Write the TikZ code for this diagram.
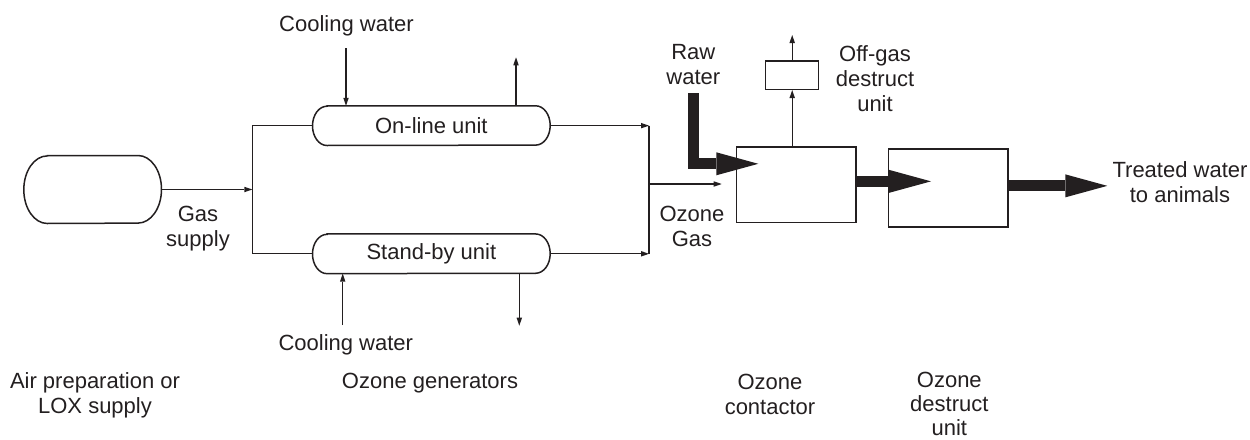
\documentclass[tikz,border=0pt]{standalone}
\usepackage{fontspec}
\setmainfont{Liberation Sans}
\usetikzlibrary{arrows.meta}
\definecolor{ink}{HTML}{231F20}
\newcommand\mlines[1]{\begin{tabular}[t]{@{}c@{}}#1\end{tabular}}
\begin{document}
\begin{tikzpicture}[x=1pt,y=-1pt,
  font=\fontsize{22}{25}\selectfont,
  every node/.style={text=ink},
  conn/.style={draw=ink, line width=1.2pt, -{Triangle[length=8pt,width=5.5pt,line width=0pt]}},
  plain/.style={draw=ink, line width=1.2pt},
  outline/.style={draw=ink, line width=1.5pt},
  box/.style={draw=ink, line width=1.5pt, inner sep=0pt},
  pillnode/.style={inner sep=0pt, minimum width=237.3pt, minimum height=39.3pt},
  bigarrow/.style={draw=ink, line width=11pt, -{Triangle[length=42pt,width=23pt,line width=0pt]}},
  lbl/.style={anchor=base, inner sep=0pt}]
\path[use as bounding box] (0,0) rectangle (1250,439);

% air preparation / LOX supply tank
\node[inner sep=0pt, minimum width=137.3pt, minimum height=67.6pt] (tank) at (92.65,189.5) {};
\draw[outline] ([xshift=23.5pt]tank.north west) -- ([xshift=-23.5pt]tank.north east)
  arc[start angle=90, end angle=-90, x radius=23.5pt, y radius=33.8pt]
  -- ([xshift=23.5pt]tank.south west)
  arc[start angle=270, end angle=90, x radius=23.5pt, y radius=33.8pt] -- cycle;

% ozone generators
\node[pillnode] (online) at (431.35,125.65) {On-line unit};
\draw[outline] ([xshift=14.5pt]online.north west) -- ([xshift=-14.5pt]online.north east)
  arc[start angle=90, end angle=-90, x radius=14.5pt, y radius=19.65pt]
  -- ([xshift=14.5pt]online.south west)
  arc[start angle=270, end angle=90, x radius=14.5pt, y radius=19.65pt] -- cycle;
\node[pillnode] (standby) at (431.35,253.8) {Stand-by unit};
\draw[outline] ([xshift=14.5pt]standby.north west) -- ([xshift=-14.5pt]standby.north east)
  arc[start angle=90, end angle=-90, x radius=14.5pt, y radius=19.65pt]
  -- ([xshift=14.5pt]standby.south west)
  arc[start angle=270, end angle=90, x radius=14.5pt, y radius=19.65pt] -- cycle;

% contactor, off-gas destruct, ozone destruct
\node[box, minimum width=119.3pt, minimum height=75.7pt] (contactor) at (796.35,184.85) {};
\node[box, minimum width=53pt, minimum height=28.3pt] (offgas) at (792.2,75.15) {};
\node[box, minimum width=119.7pt, minimum height=78pt] (destruct) at (948.15,188) {};

% coordinates for free ends and manifolds
\coordinate (mL) at (252.3,190);
\coordinate (mR) at (649,184);
\coordinate (ozin) at (721.7,184);
\coordinate (cwin) at (346,48.3);
\coordinate (onout) at (516,57.3);
\coordinate (sbin) at (342.7,325);
\coordinate (sbout) at (519.3,325.7);
\coordinate (offout) at (792.2,35);
\coordinate (rawtop) at (693.35,93.3);
\coordinate (rawtip) at (758.3,163.8);
\coordinate (d2tip) at (931,181.35);
\coordinate (outtip) at (1107.3,185.85);

% gas connections
\draw[conn] (tank.east) -- (tank.east -| mL);
\draw[plain] (online.west) -- (online.west -| mL) -- (standby.west -| mL) -- (standby.west);
\draw[conn] (online.east) -- (online.east -| mR);
\draw[conn] (standby.east) -- (standby.east -| mR);
\draw[plain] (online.east -| mR) -- (standby.east -| mR);
\draw[conn] (mR) -- (ozin);

% cooling water
\draw[conn] (cwin) -- (cwin |- online.north);
\draw[conn] (onout |- online.north) -- (onout);
\draw[conn] (sbin) -- (sbin |- standby.south);
\draw[conn] (sbout |- standby.south) -- (sbout);

% off-gas
\draw[conn] (contactor.north -| offgas.south) -- (offgas.south);
\draw[conn] (offgas.north) -- (offout);

% water flow
\draw[bigarrow] (rawtop) |- (rawtip);
\draw[bigarrow] (contactor.east |- d2tip) -- (d2tip);
\draw[bigarrow] (destruct.east |- outtip) -- (outtip);

% labels
\node[lbl] (cwtoplbl) at (346.5,31.7) {Cooling water};
\node[lbl] (cwbotlbl) at (345.8,350) {Cooling water};
\node[lbl] (gaslbl) at (198,221) {\mlines{Gas\\supply}};
\node[lbl] (rawlbl) at (693.3,59.3) {\mlines{Raw\\water}};
\node[lbl] (offlbl) at (875,61) {\mlines{Off-gas\\destruct\\unit}};
\node[lbl] (ozlbl) at (692,221.7) {\mlines{Ozone\\Gas}};
\node[lbl] (treatedlbl) at (1180,177.7) {\mlines{Treated water\\to animals}};
\node[lbl] (airlbl) at (95,388.3) {\mlines{Air preparation or\\LOX supply}};
\node[lbl] (genlbl) at (430,388.3) {Ozone generators};
\node[lbl] (contlbl) at (770,389) {\mlines{Ozone\\contactor}};
\node[lbl, font=\fontsize{22}{24}\selectfont] (destlbl) at (949.3,387) {\mlines{Ozone\\destruct\\unit}};
\end{tikzpicture}
\end{document}
